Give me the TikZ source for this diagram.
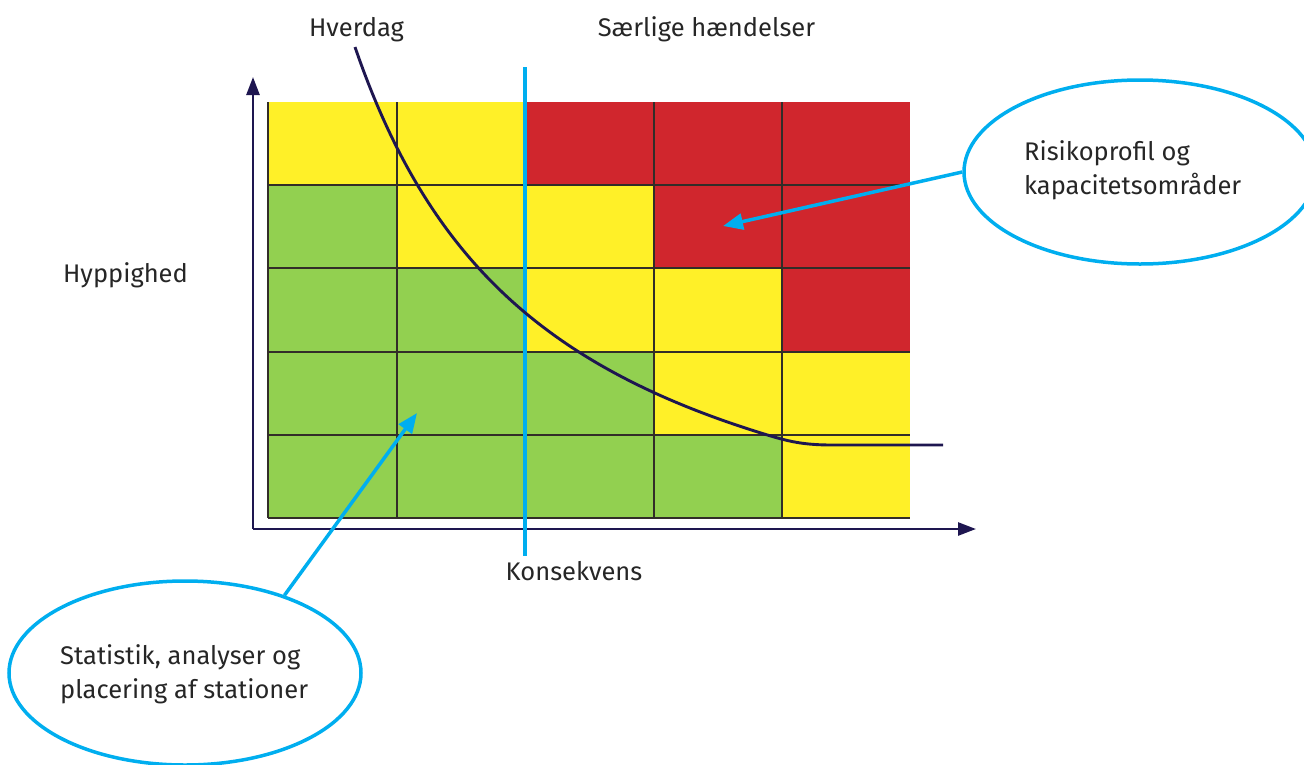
\documentclass[tikz,border=0pt]{standalone}
\usepackage{fontspec}
\setmainfont{Fira Sans}
\usetikzlibrary{arrows.meta,shapes.geometric}
\definecolor{cyel}{RGB}{255,240,40}
\definecolor{cred}{RGB}{208,38,45}
\definecolor{cgrn}{RGB}{146,208,80}
\definecolor{navy}{RGB}{30,22,80}
\definecolor{cblue}{RGB}{0,174,239}
\definecolor{gridc}{RGB}{50,45,40}
\tikzset{
  lbl/.style={font=\fontsize{25.5}{34}\selectfont, text=black!85, inner sep=0pt},
  gridline/.style={draw=gridc, line width=1.3pt},
  axis/.style={draw=navy, line width=2.6pt, -{Triangle[length=18pt,width=13pt]}},
  bubble/.style={ellipse, draw=cblue, line width=3.5pt, inner sep=0pt},
  callout/.style={draw=cblue, line width=3.5pt, -{Triangle[length=20pt,width=16pt]}},
}
\begin{document}
\begin{tikzpicture}[x=1pt,y=-1pt]
\useasboundingbox (0,0) rectangle (1304,764);
\clip (0,0) rectangle (1304,764);
% grid cells
\def\xs{{268,397,525,654,782,910}}
\def\ys{{102,185,268,352,435,518}}
\foreach \r/\row in {0/{cyel,cyel,cred,cred,cred},1/{cgrn,cyel,cyel,cred,cred},2/{cgrn,cgrn,cyel,cyel,cred},3/{cgrn,cgrn,cgrn,cyel,cyel},4/{cgrn,cgrn,cgrn,cgrn,cyel}}{
  \foreach \c [count=\i from 0] in \row {
    \pgfmathsetmacro{\xa}{\xs[\i]}
    \pgfmathsetmacro{\xb}{\xs[\i+1]}
    \pgfmathsetmacro{\ya}{\ys[\r]}
    \pgfmathsetmacro{\yb}{\ys[\r+1]}
    \fill[\c] (\xa,\ya) rectangle (\xb,\yb);
  }
}
\foreach \x in {397,525,654,782} \draw[gridline] (\x,102) -- (\x,518);
\foreach \y in {185,268,352,435,518} \draw[gridline] (268,\y) -- (910,\y);
\draw[gridline] (268,102) -- (268,518);
% axes
\coordinate (o) at (253,529);
\coordinate (ytip) at (253,77);
\coordinate (xtip) at (976,529);
\draw[axis] (o) -- (ytip);
\draw[axis] (o) -- (xtip);
% blue vertical divider
\coordinate (dtop) at (525,67);
\coordinate (dbot) at (525,556);
\draw[cblue, line width=3.2pt] (dtop) -- (dbot);
% curve
\draw[navy, line width=2.9pt]
  plot[domain=355:770, samples=90, smooth] (\x, {620.3-1129.32/((\x-158)/100)})
  .. controls (790,441.8) and (805,445) .. (832,445) -- (943,445);
% labels
\node[lbl, anchor=base] (hverdag) at (356.5,36) {Hverdag};
\node[lbl, anchor=base] (saerlige) at (706.5,36) {Særlige hændelser};
\node[lbl, anchor=base] (hypp) at (125.5,282) {Hyppighed};
\node[lbl, anchor=base] (kons) at (574,580) {Konsekvens};
% bubbles
\node[bubble, minimum width=352pt, minimum height=184pt] (rell) at (1140,172) {};
\node[lbl, anchor=north west, align=left] (rtxt) at (1024,140) {Risikoprofil og\\kapacitetsområder};
\node[bubble, minimum width=352pt, minimum height=184pt] (lell) at (185,673) {};
\node[lbl, anchor=north west, align=left] (ltxt) at (60,644) {Statistik, analyser og\\placering af stationer};
\coordinate (rtip) at (723,226);
\coordinate (ltip) at (417,413);
\draw[callout] (rell.west) -- (rtip);
\draw[callout] (lell.38) -- (ltip);
\end{tikzpicture}
\end{document}
